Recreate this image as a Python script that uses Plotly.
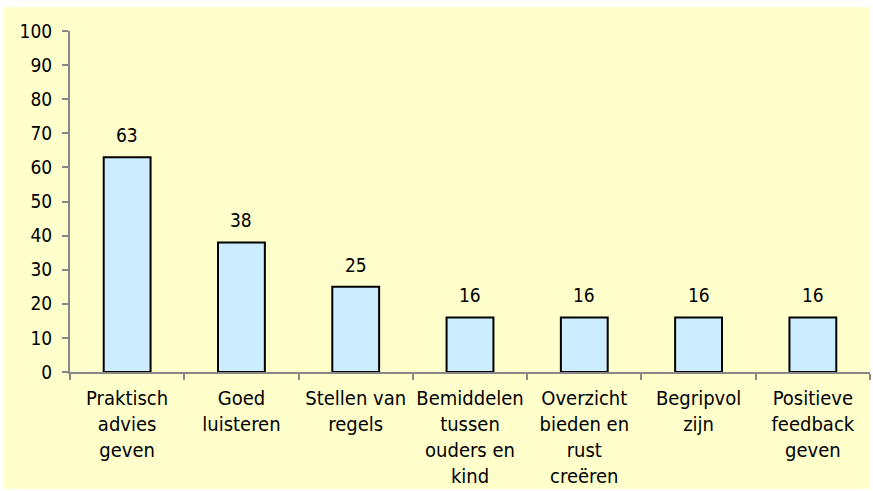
import plotly.graph_objects as go

categories = [
    "Praktisch<br>advies<br>geven",
    "Goed<br>luisteren",
    "Stellen van<br>regels",
    "Bemiddelen<br>tussen<br>ouders en<br>kind",
    "Overzicht<br>bieden en<br>rust<br>creëren",
    "Begripvol<br>zijn",
    "Positieve<br>feedback<br>geven",
]
values = [63, 38, 25, 16, 16, 16, 16]
y_ticks = list(range(0, 101, 10))

FONT = "DejaVu Sans Condensed, DejaVu Sans, sans-serif"
YELLOW = "#FFFFCC"
FS = 20

fig = go.Figure(
    go.Bar(
        x=categories,
        y=values,
        marker=dict(color="#CCECFF", line=dict(color="black", width=2)),
        width=0.41,
        hoverinfo="skip",
    )
)

for c, v in zip(categories, values):
    fig.add_annotation(
        x=c, y=v, text=str(v), showarrow=False, yshift=22,
        font=dict(family=FONT, size=FS - 1, color="black"),
    )

left, right, top, bottom = 70, 3, 31, 119
W, H = 873, 491
pw, ph = W - left - right, H - top - bottom

fig.update_layout(
    width=W,
    height=H,
    margin=dict(l=left, r=right, t=top, b=bottom, autoexpand=False),
    paper_bgcolor="white",
    plot_bgcolor=YELLOW,
    font=dict(family=FONT, size=FS, color="black"),
    showlegend=False,
    shapes=[
        dict(
            type="rect",
            xref="paper",
            yref="paper",
            x0=(4 - left) / pw,
            x1=(869 - left) / pw,
            y0=-(489 - (H - bottom)) / ph,
            y1=1 + (top - 7) / ph,
            fillcolor=YELLOW,
            line=dict(width=0),
            layer="below",
        )
    ],
)

fig.update_xaxes(
    type="category",
    automargin=False,
    showline=True,
    linecolor="#888888",
    linewidth=2,
    ticks="outside",
    tickson="boundaries",
    ticklen=6,
    tickcolor="#888888",
    tickwidth=2,
    showgrid=False,
    tickfont=dict(family=FONT, size=FS, color="black"),
    tickangle=0,
    ticklabelstandoff=7,
)
fig.update_yaxes(
    range=[0, 100],
    automargin=False,
    tickvals=y_ticks,
    showline=True,
    linecolor="#888888",
    linewidth=2,
    ticks="outside",
    ticklen=6,
    tickcolor="#888888",
    tickwidth=2,
    showgrid=False,
    zeroline=False,
    tickfont=dict(family=FONT, size=FS - 1, color="black"),
    ticklabelstandoff=6,
)

fig.write_html(
    "out.html",
    config={"displayModeBar": False},
    post_script="document.body.style.margin='0';document.body.style.overflow='hidden';",
)
